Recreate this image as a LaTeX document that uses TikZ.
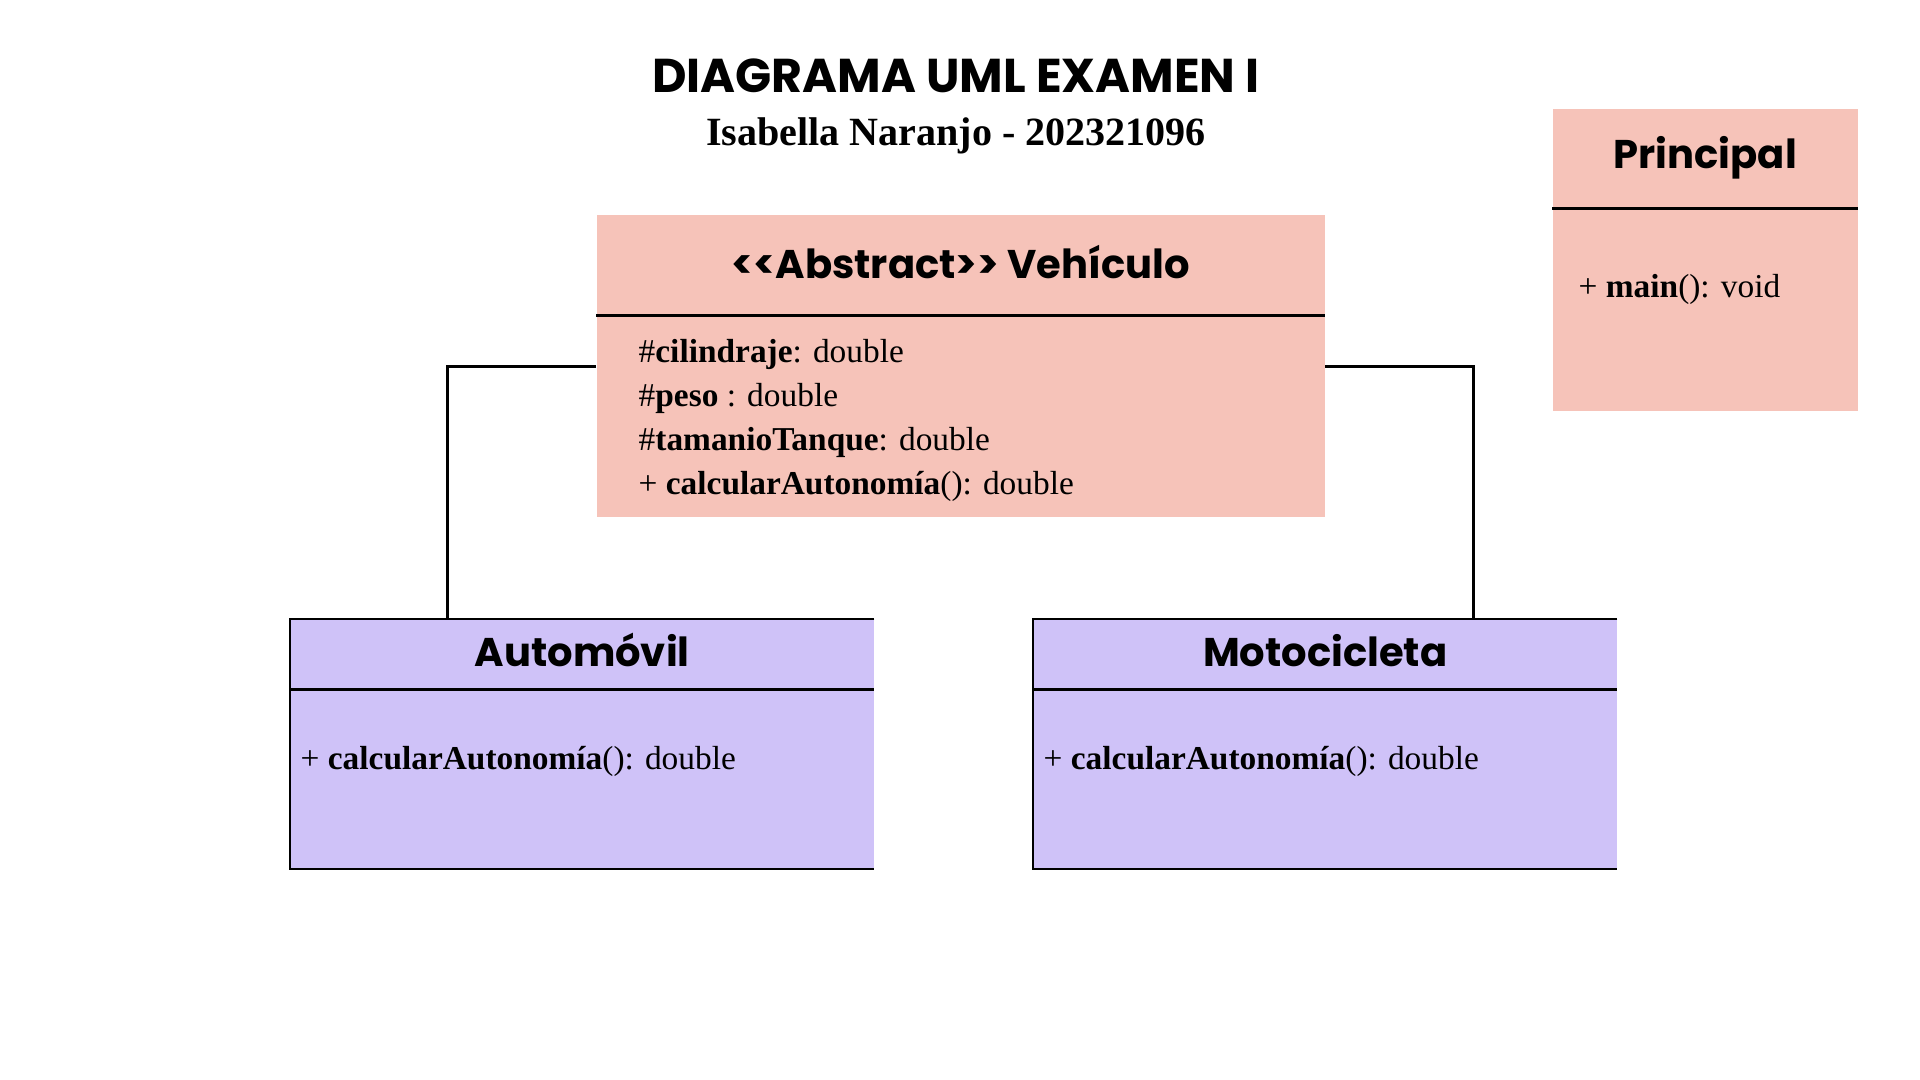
\documentclass[tikz,border=0pt]{standalone}
\usepackage{fontspec}
\setmainfont{Liberation Serif}
\newfontfamily\handfont{Poppins}
\usetikzlibrary{positioning}
\definecolor{rosa}{HTML}{F6C3B9}
\definecolor{lila}{HTML}{CFC2F8}
\tikzset{
  head/.style={rectangle, inner sep=0pt, anchor=north west, font=\handfont\bfseries\fontsize{11.4}{14}\selectfont},
  body/.style={rectangle, inner sep=0pt, anchor=north west},
  attr/.style={inner sep=0pt, text height=0.22cm, text depth=0.07cm, font=\fontsize{9.5}{11}\selectfont},
  divider/.style={line width=0.95pt},
  outline/.style={line width=0.45pt},
  link/.style={line width=0.75pt}
}
\begin{document}
\begin{tikzpicture}[node distance=0.44cm]
      \useasboundingbox (0,0) rectangle (19.2,10.8);
      % titles
      \node [font=\handfont\bfseries\fontsize{13.5}{15}\selectfont] (titulo) at (9.56,10.04) {DIAGRAMA UML EXAMEN I};
      \node [font=\bfseries\fontsize{11.4}{13}\selectfont, anchor=base] (autora) at (9.56,9.34) {Isabella Naranjo - 202321096};

      % abstract class
      \node [head, fill=rosa, minimum width=7.28cm, minimum height=1cm] (vehhead) at (5.96,8.66) {\raisebox{0.5mm}{<<Abstract>> Vehículo}};
      \node [body, fill=rosa, minimum width=7.28cm, minimum height=2.01cm] (vehbody) at (vehhead.south west) {};
      \node [attr, anchor=base west] (va1) at (6.38,7.17) {\#\textbf{cilindraje}: double};
      \node [attr, below=of va1.west, anchor=west] (va2) {\#\textbf{peso} : double};
      \node [attr, below=of va2.west, anchor=west] (va3) {\#\textbf{tamanioTanque}: double};
      \node [attr, below=of va3.west, anchor=west] (va4) {+ \textbf{calcularAutonomía}(): double};

      % main class
      \node [head, fill=rosa, minimum width=3.05cm, minimum height=0.99cm] (prinhead) at (15.52,9.72) {Principal};
      \node [body, fill=rosa, minimum width=3.05cm, minimum height=2.02cm] (prinbody) at (prinhead.south west) {};
      \node [attr, anchor=base west] (pm) at (15.78,7.82) {+ \textbf{main}(): void};

      % subclasses
      \node [head, fill=lila, minimum width=5.83cm, minimum height=0.69cm] (autohead) at (2.90,4.61) {\raisebox{0.8mm}{Automóvil}};
      \node [body, fill=lila, minimum width=5.83cm, minimum height=1.78cm] (autobody) at (autohead.south west) {};
      \node [attr, anchor=base west] (am) at (3.00,3.10) {+ \textbf{calcularAutonomía}(): double};
      \node [head, fill=lila, minimum width=5.83cm, minimum height=0.69cm] (motohead) at (10.33,4.61) {\raisebox{0.8mm}{Motocicleta}};
      \node [body, fill=lila, minimum width=5.83cm, minimum height=1.78cm] (motobody) at (motohead.south west) {};
      \node [attr, anchor=base west] (mm) at (10.43,3.10) {+ \textbf{calcularAutonomía}(): double};

      % outlines
      \draw [outline] (autohead.north east) -- (autohead.north west) -- (autobody.south west) -- (autobody.south east);
      \draw [outline] (motohead.north east) -- (motohead.north west) -- (motobody.south west) -- (motobody.south east);
      \draw [divider] (vehhead.south west) -- (vehhead.south east);
      \draw [divider] (prinhead.south west) -- (prinhead.south east);
      \draw [divider] (autohead.south west) -- (autohead.south east);
      \draw [divider] (motohead.south west) -- (motohead.south east);

      % links
      \draw [link] ([yshift=-5.1mm]vehbody.north west) -| ([xshift=-13.45mm]autohead.north);
      \draw [link] ([yshift=-5.1mm]vehbody.north east) -| ([xshift=14.85mm]motohead.north);
    \end{tikzpicture}
\end{document}
